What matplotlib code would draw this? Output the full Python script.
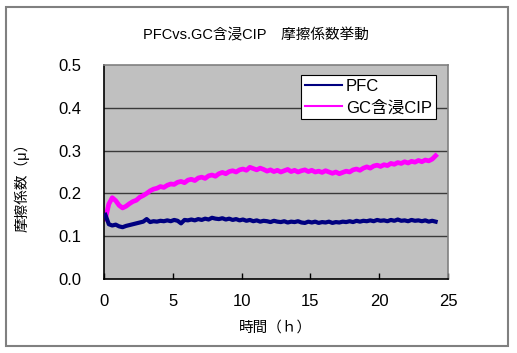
import numpy as np
import matplotlib
matplotlib.use("Agg")
import matplotlib.pyplot as plt
from matplotlib.patches import Rectangle

plt.rcParams['font.family'] = ['Liberation Sans', 'Noto Sans CJK JP', 'DejaVu Sans']

title = "PFCvs.GC含浸CIP　摩擦係数挙動"
xlabel = "時間（ｈ）"
ylabel = "摩擦係数（μ）"
series_names = ["PFC", "GC含浸CIP"]

gc_values = [
    0.140, 0.175, 0.190, 0.183, 0.172, 0.166, 0.170, 0.176, 0.181, 0.184,
    0.191, 0.195, 0.200, 0.206, 0.210, 0.212, 0.216, 0.214, 0.219, 0.222,
    0.221, 0.226, 0.228, 0.225, 0.231, 0.233, 0.230, 0.236, 0.238, 0.235,
    0.241, 0.243, 0.240, 0.246, 0.249, 0.246, 0.251, 0.253, 0.250, 0.255,
    0.257, 0.254, 0.261, 0.258, 0.255, 0.259, 0.256, 0.252, 0.255, 0.251,
    0.254, 0.250, 0.253, 0.256, 0.251, 0.254, 0.250, 0.253, 0.255, 0.251,
    0.254, 0.250, 0.252, 0.249, 0.253, 0.250, 0.247, 0.250, 0.246, 0.249,
    0.252, 0.250, 0.255, 0.257, 0.254, 0.259, 0.262, 0.259, 0.264, 0.266,
    0.263, 0.267, 0.265, 0.270, 0.268, 0.272, 0.270, 0.274, 0.271, 0.275,
    0.273, 0.277, 0.274, 0.278, 0.276, 0.280, 0.288,
]

pfc_values = [
    0.150, 0.128, 0.125, 0.127, 0.123, 0.121, 0.124, 0.126, 0.128, 0.130,
    0.132, 0.134, 0.140, 0.133, 0.135, 0.134, 0.136, 0.135, 0.137, 0.135,
    0.138, 0.136, 0.130, 0.138, 0.137, 0.139, 0.137, 0.140, 0.138, 0.141,
    0.139, 0.143, 0.141, 0.140, 0.142, 0.139, 0.141, 0.138, 0.140, 0.137,
    0.139, 0.136, 0.138, 0.135, 0.137, 0.134, 0.136, 0.135, 0.133, 0.136,
    0.134, 0.133, 0.135, 0.132, 0.134, 0.133, 0.135, 0.132, 0.131, 0.134,
    0.132, 0.134, 0.131, 0.133, 0.132, 0.134, 0.131, 0.133, 0.132, 0.134,
    0.133, 0.135, 0.133, 0.136, 0.134, 0.136, 0.135, 0.137, 0.135, 0.138,
    0.136, 0.137, 0.135, 0.138, 0.136, 0.139, 0.136, 0.137, 0.135, 0.138,
    0.136, 0.137, 0.135, 0.137, 0.134, 0.136, 0.134,
]

gc_hours = 0.1 + 0.25 * np.arange(len(gc_values))
pfc_hours = 0.1 + 0.25 * np.arange(len(pfc_values))

x_ticks = [0, 5, 10, 15, 20, 25]
y_ticks = [0.0, 0.1, 0.2, 0.3, 0.4, 0.5]

fig = plt.figure(figsize=(5.17, 3.53), dpi=100)
fig.patch.set_facecolor('white')
fig.patches.append(Rectangle((6 / 517, 1 - 346 / 353), 502 / 517, 339 / 353,
                             transform=fig.transFigure, fill=False,
                             edgecolor='#808080', linewidth=1.5))

ax = fig.add_axes([104 / 517, 1 - 279 / 353, 344 / 517, 214 / 353])
ax.set_facecolor('#C0C0C0')

for yv in y_ticks[1:-1]:
    ax.axhline(yv, color='#3a3a3a', linewidth=1.0, zorder=1)

ax.plot(pfc_hours, pfc_values, color='#000080', linewidth=3.0, label=series_names[0], zorder=3)
ax.plot(gc_hours, gc_values, color='#FF00FF', linewidth=3.4, label=series_names[1], zorder=2)

ax.set_xlim(0, 25)
ax.set_ylim(0, 0.5)
ax.set_xticks(x_ticks)
ax.set_yticks(y_ticks)
ax.set_xticklabels([str(v) for v in x_ticks])
ax.set_yticklabels([f"{v:.1f}" for v in y_ticks])
ax.tick_params(axis='x', direction='in', length=4, width=1, pad=11, labelsize=12)
ax.tick_params(axis='y', direction='in', length=0, pad=16, labelsize=12)

for s in ['left', 'bottom']:
    ax.spines[s].set_color('black')
    ax.spines[s].set_linewidth(1.2)
for s in ['top', 'right']:
    ax.spines[s].set_color('#808080')
    ax.spines[s].set_linewidth(1.2)

leg = ax.legend(loc='upper right', bbox_to_anchor=(436 / 517, 1 - 75 / 353),
                bbox_transform=fig.transFigure, fontsize=12, frameon=True,
                fancybox=False, framealpha=1, edgecolor='black',
                handlelength=2.2, handletextpad=0.25, borderpad=0.25,
                labelspacing=0.35, borderaxespad=0)
leg.get_frame().set_linewidth(0.8)
for line in leg.get_lines():
    line.set_linewidth(1.5)

fig.text(256 / 517, 1 - 35 / 353, title, ha='center', va='center', fontsize=10.5)
fig.text(275 / 517, 1 - 328 / 353, xlabel, ha='center', va='center', fontsize=10.5)
fig.text(22 / 517, 1 - 184 / 353, ylabel, ha='center', va='center', fontsize=10.5, rotation=90)

fig.savefig('out.png', dpi=100)
